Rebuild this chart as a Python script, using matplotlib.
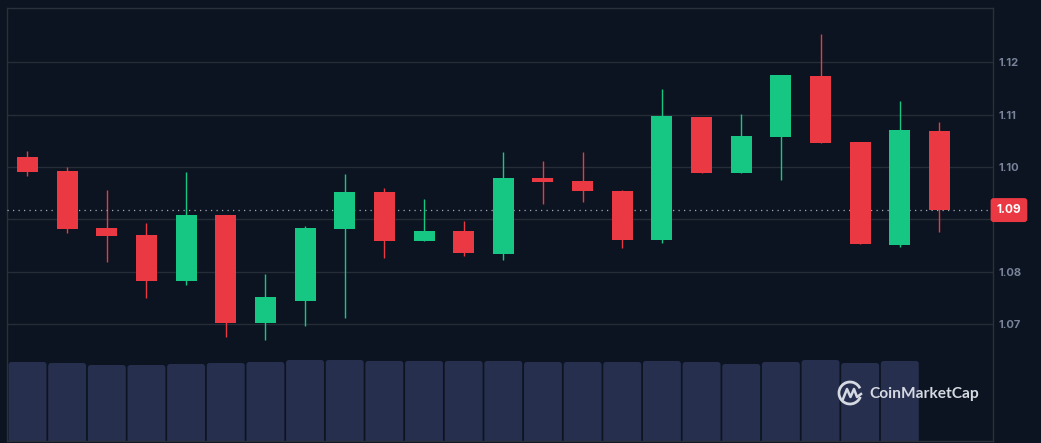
import numpy as np
import matplotlib
matplotlib.use("Agg")
import matplotlib.pyplot as plt
from matplotlib.patches import FancyBboxPatch, Arc

opens = [1.1019,1.0993,1.0884,1.0870,1.0783,1.0909,1.0703,1.0744,1.0882,1.0952,1.0859,1.0878,1.0834,1.0979,1.0973,1.0954,1.0861,1.1096,1.0989,1.1057,1.1174,1.1048,1.0851,1.1069]
closes = [1.0991,1.0882,1.0869,1.0783,1.0909,1.0703,1.0752,1.0884,1.0952,1.0859,1.0878,1.0836,1.0979,1.0972,1.0954,1.0861,1.1098,1.0989,1.1059,1.1176,1.1046,1.0853,1.1071,1.0918]
highs = [1.1031,1.1000,1.0956,1.0893,1.0991,1.0909,1.0796,1.0888,1.0987,1.0960,1.0939,1.0897,1.1029,1.1012,1.1029,1.0956,1.1149,1.1096,1.1101,1.1176,1.1254,1.1048,1.1126,1.1086]
lows = [1.0983,1.0874,1.0819,1.0750,1.0775,1.0676,1.0670,1.0697,1.0712,1.0827,1.0859,1.0830,1.0823,1.0930,1.0933,1.0846,1.0855,1.0989,1.0989,1.0975,1.1046,1.0853,1.0848,1.0876]
volumes = [79,78,76,76,77,78,79,81,81,80,80,80,80,79,79,79,80,79,77,79,81,78,80]
tick_vals = [1.07,1.08,1.09,1.10,1.11,1.12]
tick_labels = ["1.07","1.08","","1.10","1.11","1.12"]
last_price = 1.0918
last_label = "1.09"
brand = "CoinMarketCap"

BG = "#0b1420"; GRID = "#262d39"; UP = "#16c784"; DOWN = "#ea3943"; VOL = "#272f4f"
W, H = 1041, 443
fig = plt.figure(figsize=(W/100, H/100), dpi=100, facecolor=BG)
L, R, T, B = 7, 993, 8, 441
rect = [L/W, 1-B/H, (R-L)/W, (B-T)/H]
XLIM = (-0.517, 24.35)

vax = fig.add_axes(rect, zorder=1)
vax.set_xlim(*XLIM); vax.set_ylim(0, B-T)
vax.axis("off")
for i, v in enumerate(volumes):
    vax.add_patch(FancyBboxPatch((i-0.478, -6), 0.956, v+6,
        boxstyle="round,pad=0,rounding_size=0.07", mutation_aspect=40,
        fc=VOL, ec="none", clip_on=True))

ax = fig.add_axes(rect, zorder=2)
ax.patch.set_alpha(0)
ax.set_xlim(*XLIM); ax.set_ylim(1.04773, 1.13036)
ax.set_xticks([])
ax.set_yticks(tick_vals); ax.set_yticklabels(tick_labels)
ax.yaxis.tick_right()
ax.tick_params(axis="y", length=0, pad=4, labelsize=8.0, labelcolor="#79849a")
for t in ax.get_yticklabels():
    t.set_fontfamily("Inter"); t.set_fontweight("bold")
ax.grid(axis="y", color=GRID, lw=1, zorder=0)
ax.set_axisbelow(True)
for s in ax.spines.values():
    s.set_color("#2a313d"); s.set_linewidth(1)

for i, (o, c, h, l) in enumerate(zip(opens, closes, highs, lows)):
    col = UP if c > o else DOWN
    ax.vlines(i, l, h, color=col, lw=1.0, zorder=3)
    ax.bar(i, abs(c-o), bottom=min(o, c), width=0.53, color=col, zorder=4, lw=0)

ax.axhline(last_price, color="#a4abb6", lw=0.9, ls=(0, (1, 3.4)), zorder=3)
ax.annotate(last_label, xy=(1, last_price), xycoords=("axes fraction", "data"),
    xytext=(11.5, 0), textcoords="offset points", ha="center", va="center",
    color="white", fontsize=8.6, fontweight="bold", family="Inter", zorder=6,
    annotation_clip=False,
    bbox=dict(boxstyle="round,pad=0.5,rounding_size=0.25", fc=DOWN, ec="none"))

# brand mark, figure pixels
logo = "#d5d9e2"
lax = fig.add_axes([0, 0, 1, 1], zorder=3)
lax.set_xlim(0, W); lax.set_ylim(H, 0); lax.axis("off")
lax.add_patch(Arc((850, 393), 22, 22, theta1=20, theta2=335, color=logo, lw=2))
lax.plot([843, 847, 850.5, 854, 857, 861], [399, 389, 397, 389, 397, 394], color=logo, lw=1.8, solid_joinstyle="round")
lax.text(869.5, 394, brand, color=logo, fontsize=11.2, fontweight="bold", family="Lato", va="center", ha="left")

fig.savefig("out.png", dpi=100, facecolor=BG)
